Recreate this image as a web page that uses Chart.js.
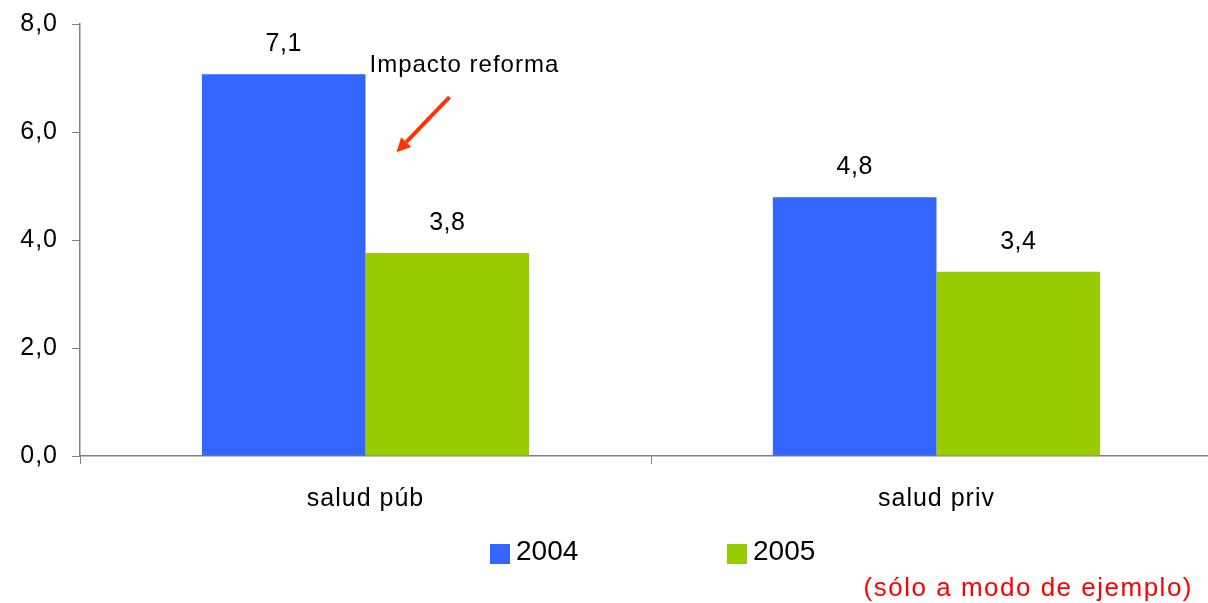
<!DOCTYPE html>
<html>
<head>
<meta charset="utf-8">
<script src="https://cdn.jsdelivr.net/npm/chart.js@4.4.1/dist/chart.umd.min.js"></script>
<style>
  html, body { margin: 0; padding: 0; background: #fff; overflow: hidden; }
</style>
</head>
<body>
<canvas id="myChart" width="1222" height="603"></canvas>
<script>
// data
const categories = ['salud púb', 'salud priv'];
const seriesNames = ['2004', '2005'];
const values2004 = [7.07, 4.79];
const values2005 = [3.76, 3.41];
const yTicks = [0, 2, 4, 6, 8];

const colors = ['#3366FF', '#99CC00'];
const fontFamily = 'Arial, "Liberation Sans", sans-serif';
const fmt = v => v.toFixed(1).replace('.', ',');

// labels above bars, annotation, legend and footnote
const extrasPlugin = {
    id: 'extras',
    beforeDraw(chart) {
        chart.ctx.letterSpacing = '1px';
    },
    afterDatasetsDraw(chart) {
        const ctx = chart.ctx;
        ctx.save();
        ctx.fillStyle = '#000';
        ctx.font = '25px ' + fontFamily;
        ctx.letterSpacing = '0.5px';
        ctx.textAlign = 'center';
        ctx.textBaseline = 'alphabetic';
        chart.data.datasets.forEach((ds, i) => {
            chart.getDatasetMeta(i).data.forEach((bar, j) => {
                ctx.fillText(fmt(ds.data[j]), bar.x, bar.y - 23);
            });
        });

        // "Impacto reforma" note next to the first 2004 bar
        const b = chart.getDatasetMeta(0).data[0];
        const bx = b.x + b.width / 2;
        ctx.textAlign = 'left';
        ctx.font = '24px ' + fontFamily;
        ctx.letterSpacing = '1px';
        ctx.fillText('Impacto reforma', bx + 4, b.y - 2);

        // red arrow
        const x1 = bx + 84, y1 = b.y + 23, x2 = bx + 31, y2 = b.y + 78;
        ctx.strokeStyle = '#FF3300';
        ctx.fillStyle = '#FF3300';
        ctx.lineWidth = 4;
        const ang = Math.atan2(y2 - y1, x2 - x1);
        const hx = x2 - 14 * Math.cos(ang), hy = y2 - 14 * Math.sin(ang);
        ctx.beginPath();
        ctx.moveTo(x1, y1);
        ctx.lineTo(hx, hy);
        ctx.stroke();
        ctx.beginPath();
        ctx.moveTo(x2, y2);
        ctx.lineTo(hx + 7 * Math.sin(ang), hy - 7 * Math.cos(ang));
        ctx.lineTo(hx - 7 * Math.sin(ang), hy + 7 * Math.cos(ang));
        ctx.closePath();
        ctx.fill();

        // legend
        const legendX = [490, 727];
        ctx.font = '28px ' + fontFamily;
        ctx.letterSpacing = '0px';
        ctx.textBaseline = 'middle';
        chart.data.datasets.forEach((ds, i) => {
            ctx.fillStyle = ds.backgroundColor;
            ctx.fillRect(legendX[i], 544, 20, 20);
            ctx.fillStyle = '#000';
            ctx.fillText(ds.label, legendX[i] + 26, 552);
        });

        // footnote
        ctx.fillStyle = '#FF0000';
        ctx.font = '26px ' + fontFamily;
        ctx.letterSpacing = '1.5px';
        ctx.textAlign = 'right';
        ctx.textBaseline = 'alphabetic';
        ctx.fillText('(sólo a modo de ejemplo)', 1193, 596);
        ctx.restore();
    }
};

const ctx = document.getElementById('myChart').getContext('2d');
const myChart = new Chart(ctx, {
    type: 'bar',
    data: {
        labels: categories,
        datasets: [{
            label: seriesNames[0],
            data: values2004,
            backgroundColor: colors[0],
            categoryPercentage: 0.573,
            barPercentage: 1.0
        }, {
            label: seriesNames[1],
            data: values2005,
            backgroundColor: colors[1],
            categoryPercentage: 0.573,
            barPercentage: 1.0
        }]
    },
    options: {
        responsive: false,
        animation: false,
        layout: { padding: { top: 24, bottom: 90, left: 0, right: 0 } },
        plugins: {
            legend: { display: false },
            tooltip: { enabled: false }
        },
        scales: {
            x: {
                grid: { drawOnChartArea: false, offset: true, color: '#808080', tickLength: 8 },
                border: { color: '#808080', width: 1.5 },
                ticks: { color: '#000', padding: 20, font: { size: 25, family: fontFamily } },
                afterFit: s => { s.height = 57; }
            },
            y: {
                min: 0,
                max: 8,
                afterBuildTicks: s => { s.ticks = yTicks.map(v => ({ value: v })); },
                grid: { drawOnChartArea: false, color: '#808080', tickLength: 8 },
                border: { color: '#808080', width: 1.5 },
                ticks: {
                    color: '#000',
                    padding: 14,
                    font: { size: 25, family: fontFamily },
                    callback: v => fmt(v)
                },
                afterFit: s => { s.width = 80; s.paddingTop = 0; s.paddingBottom = 0; }
            }
        }
    },
    plugins: [extrasPlugin]
});
</script>
</body>
</html>
